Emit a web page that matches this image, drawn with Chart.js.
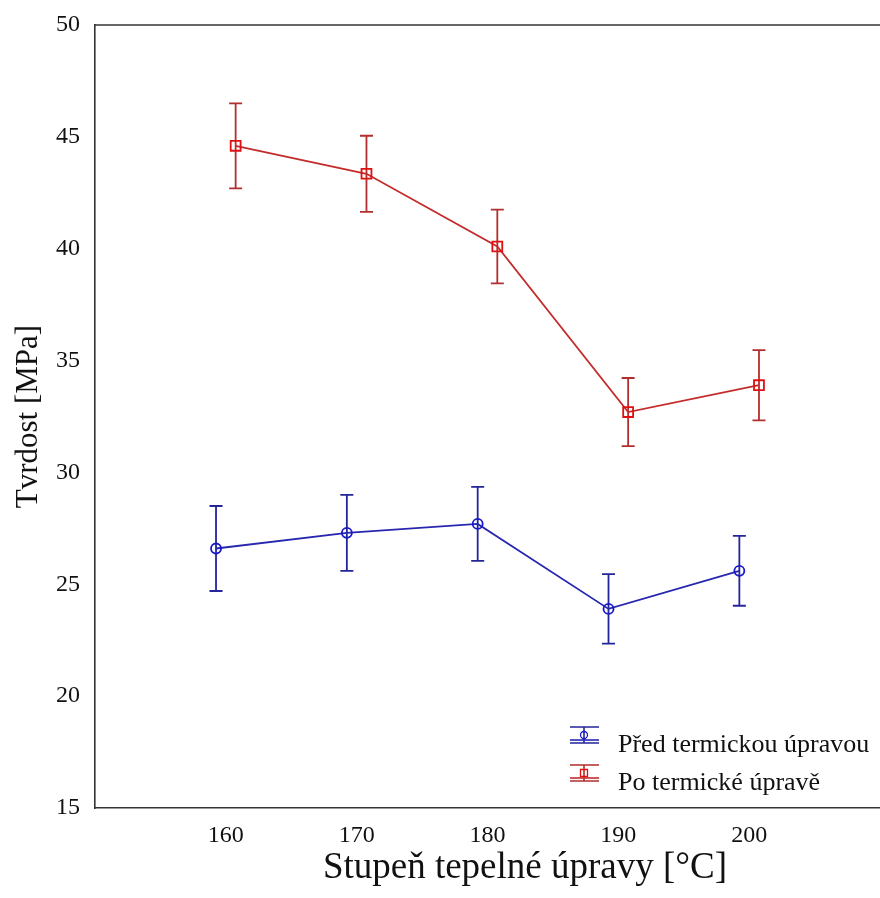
<!DOCTYPE html>
<html>
<head>
<meta charset="utf-8">
<script src="https://cdn.jsdelivr.net/npm/chart.js@4.4.1/dist/chart.umd.min.js"></script>
<style>
  html, body { margin: 0; padding: 0; background: #fff; }
  #wrap { width: 880px; height: 898px; }
</style>
</head>
<body>
<div id="wrap"><canvas id="myChart" width="880" height="898"></canvas></div>
<script>
// values
const temps = [160, 170, 180, 190, 200];
const predMean = [26.6, 27.3, 27.7, 23.9, 25.6];
const predErr = [1.9, 1.7, 1.65, 1.55, 1.56];
const poMean = [44.6, 43.35, 40.1, 32.7, 33.9];
const poErr = [1.9, 1.7, 1.65, 1.52, 1.57];
const xTicks = [160, 170, 180, 190, 200];
const seriesNames = ["Před termickou úpravou", "Po termické úpravě"];
const xTitle = "Stupeň tepelné úpravy [°C]";

const shift = 0.75; // groups are dodged a little around each temperature
const serif = "'Liberation Serif', 'Times New Roman', serif";

const toPoints = (mean, err, dx) =>
  temps.map((t, i) => ({ x: t + dx, y: mean[i], e: err[i] }));

// vertical error bars with caps
const errorBars = {
  id: "errorBars",
  beforeDatasetsDraw(chart) {
    const { ctx, scales } = chart;
    chart.data.datasets.forEach((ds) => {
      ctx.save();
      ctx.strokeStyle = ds.errColor;
      ctx.lineWidth = 1.8;
      ds.data.forEach((p) => {
        const x = scales.x.getPixelForValue(p.x);
        const y1 = scales.y.getPixelForValue(p.y + p.e);
        const y2 = scales.y.getPixelForValue(p.y - p.e);
        ctx.beginPath();
        ctx.moveTo(x, y1);
        ctx.lineTo(x, y2);
        ctx.moveTo(x - 6.5, y1);
        ctx.lineTo(x + 6.5, y1);
        ctx.moveTo(x - 6.5, y2);
        ctx.lineTo(x + 6.5, y2);
        ctx.stroke();
      });
      ctx.restore();
    });
  },
};

// top frame line, x title and the legend in the lower right corner
const frameAndLegend = {
  id: "frameAndLegend",
  afterDraw(chart) {
    const { ctx, chartArea } = chart;
    ctx.save();
    ctx.strokeStyle = "#333";
    ctx.lineWidth = 1.6;
    ctx.beginPath();
    ctx.moveTo(chartArea.left, chartArea.top);
    ctx.lineTo(chart.width, chartArea.top);
    ctx.stroke();

    // the original plot runs on past the right edge, so its title sits right of centre
    ctx.fillStyle = "#111";
    ctx.font = "37px " + serif;
    ctx.textAlign = "center";
    ctx.textBaseline = "middle";
    ctx.fillText(xTitle, 525, 868);
    ctx.textAlign = "left";

    const rows = [735, 773];
    chart.data.datasets.forEach((ds, i) => {
      const cy = rows[i];
      const x0 = 570, x1 = 599, cx = 584;
      ctx.strokeStyle = ds.errColor;
      ctx.lineWidth = 1.6;
      ctx.beginPath();
      ctx.moveTo(x0, cy - 8); ctx.lineTo(x1, cy - 8);
      ctx.moveTo(x0, cy + 8); ctx.lineTo(x1, cy + 8);
      ctx.moveTo(cx, cy - 8); ctx.lineTo(cx, cy + 8);
      ctx.stroke();
      ctx.strokeStyle = ds.borderColor;
      ctx.beginPath();
      ctx.moveTo(x0, cy + 5); ctx.lineTo(x1, cy + 5);
      ctx.stroke();
      ctx.strokeStyle = ds.pointBorderColor;
      ctx.lineWidth = 1.3;
      ctx.beginPath();
      if (ds.pointStyle === "rect") ctx.rect(cx - 3.5, cy - 3.5, 7, 7);
      else ctx.arc(cx, cy, 3.5, 0, Math.PI * 2);
      ctx.stroke();

      ctx.fillStyle = "#111";
      ctx.font = "26px " + serif;
      ctx.fillText(ds.label, 618, cy + 10);
    });
    ctx.restore();
  },
};

new Chart(document.getElementById("myChart"), {
  type: "line",
  data: {
    datasets: [
      {
        label: seriesNames[0],
        data: toPoints(predMean, predErr, -shift),
        borderColor: "#2626b0",
        errColor: "#25259a",
        borderWidth: 1.8,
        pointStyle: "circle",
        pointRadius: 5,
        pointBorderWidth: 1.8,
        pointBorderColor: "#1818c8",
        pointBackgroundColor: "rgba(0,0,0,0)",
        tension: 0,
      },
      {
        label: seriesNames[1],
        data: toPoints(poMean, poErr, shift),
        borderColor: "#c42c2c",
        errColor: "#b32e2e",
        borderWidth: 1.8,
        pointStyle: "rect",
        pointRadius: 7,
        pointBorderWidth: 1.8,
        pointBorderColor: "#e01010",
        pointBackgroundColor: "rgba(0,0,0,0)",
        tension: 0,
      },
    ],
  },
  options: {
    responsive: false,
    animation: false,
    layout: { autoPadding: false, padding: { top: 25, right: 0, left: 0, bottom: 0 } },
    plugins: {
      legend: { display: false },
      tooltip: { enabled: false },
    },
    scales: {
      x: {
        type: "linear",
        min: 150,
        max: 210,
        afterBuildTicks: (scale) => {
          scale.ticks = xTicks.map((v) => ({ value: v }));
        },
        afterFit: (scale) => {
          scale.height = 90;
          scale.paddingLeft = 0;
          scale.paddingRight = 0;
        },
        grid: { display: false, drawTicks: false },
        border: { display: true, color: "#333", width: 1.6 },
        ticks: {
          padding: 13,
          color: "#111",
          font: { family: serif, size: 24 },
          maxRotation: 0,
        },
        title: { display: false },
      },
      y: {
        min: 15,
        max: 50,
        afterFit: (scale) => {
          scale.width = 95;
          scale.paddingTop = 0;
          scale.paddingBottom = 0;
        },
        grid: { display: false, drawTicks: false },
        border: { display: true, color: "#333", width: 1.6 },
        ticks: {
          stepSize: 5,
          padding: 15,
          color: "#111",
          font: { family: serif, size: 24 },
        },
        title: {
          display: true,
          text: "Tvrdost [MPa]",
          color: "#111",
          font: { family: serif, size: 31 },
          padding: { top: 10, bottom: 0 },
        },
      },
    },
  },
  plugins: [errorBars, frameAndLegend],
});
</script>
</body>
</html>
